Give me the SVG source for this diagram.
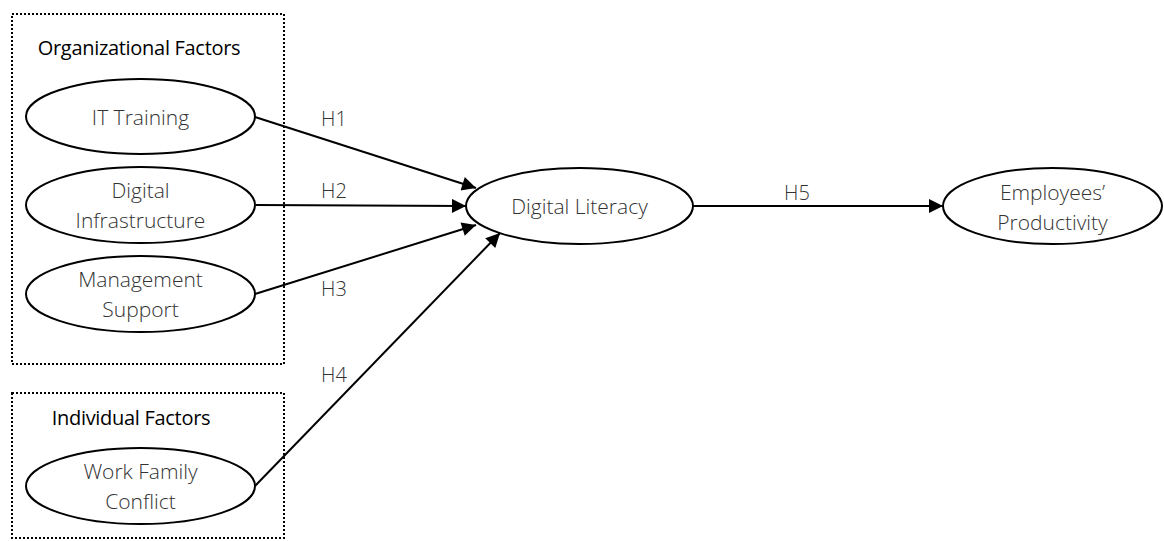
<svg xmlns="http://www.w3.org/2000/svg" width="1164" height="541" viewBox="0 0 1164 541">
<style>
.box{fill:none;stroke:#000;stroke-width:2;stroke-dasharray:2 2}
.node ellipse{fill:#fff;stroke:#000;stroke-width:2}
.lbl{font-family:"Open Sans",Lato,sans-serif;font-weight:300;font-size:21px;fill:#333;text-anchor:middle}
.hdr{font-family:"Open Sans",Lato,sans-serif;font-size:20px;fill:#000;text-anchor:middle;letter-spacing:-0.3px}
.edge{stroke:#000;stroke-width:2;fill:none;marker-end:url(#ah)}
.h{font-family:"Open Sans",Lato,sans-serif;font-weight:300;font-size:20px;fill:#333;text-anchor:middle}
</style>
<defs>
<marker id="ah" viewBox="0 0 10 10" refX="10" refY="5" markerWidth="8" markerHeight="7" markerUnits="strokeWidth" orient="auto">
<path d="M0,0 L10,5 L0,10 z" fill="#000"/>
</marker>
</defs>
<rect width="1164" height="541" fill="#fff"/>
<g id="group-organizational">
<rect class="box" x="12" y="14" width="272" height="350"/>
<text class="hdr" x="139" y="55">Organizational Factors</text>
</g>
<g id="group-individual">
<rect class="box" x="12" y="393" width="272" height="145"/>
<text class="hdr" x="131" y="425">Individual Factors</text>
</g>
<g id="connectors">
<line class="edge" x1="255" y1="117" x2="476" y2="188"/>
<line class="edge" x1="256" y1="205" x2="466" y2="206"/>
<line class="edge" x1="255" y1="294" x2="476" y2="225"/>
<line class="edge" x1="255" y1="486" x2="500" y2="233"/>
<line class="edge" x1="693" y1="206" x2="943" y2="206"/>
<text class="h" x="334" y="126">H1</text>
<text class="h" x="334" y="198">H2</text>
<text class="h" x="334" y="296">H3</text>
<text class="h" x="334" y="382">H4</text>
<text class="h" x="797" y="200">H5</text>
</g>
<g id="node-it-training" class="node">
<ellipse cx="140.5" cy="116.5" rx="114.5" ry="37.5"/>
<text class="lbl" x="140.5" y="125">IT Training</text>
</g>
<g id="node-digital-infrastructure" class="node">
<ellipse cx="140.5" cy="205" rx="114.5" ry="38"/>
<text class="lbl" x="140.5" y="198">Digital</text>
<text class="lbl" x="140.5" y="228">Infrastructure</text>
</g>
<g id="node-management-support" class="node">
<ellipse cx="140.5" cy="294" rx="114.5" ry="38"/>
<text class="lbl" x="140.5" y="287">Management</text>
<text class="lbl" x="140.5" y="317">Support</text>
</g>
<g id="node-work-family-conflict" class="node">
<ellipse cx="140.5" cy="486" rx="114.5" ry="38"/>
<text class="lbl" x="140.5" y="479">Work Family</text>
<text class="lbl" x="140.5" y="509">Conflict</text>
</g>
<g id="node-digital-literacy" class="node">
<ellipse cx="579.5" cy="206" rx="113.5" ry="38"/>
<text class="lbl" x="579.5" y="214">Digital Literacy</text>
</g>
<g id="node-employees-productivity" class="node">
<ellipse cx="1052.5" cy="206" rx="109.5" ry="38"/>
<text class="lbl" x="1052.5" y="200">Employees’</text>
<text class="lbl" x="1052.5" y="230">Productivity</text>
</g>
</svg>
